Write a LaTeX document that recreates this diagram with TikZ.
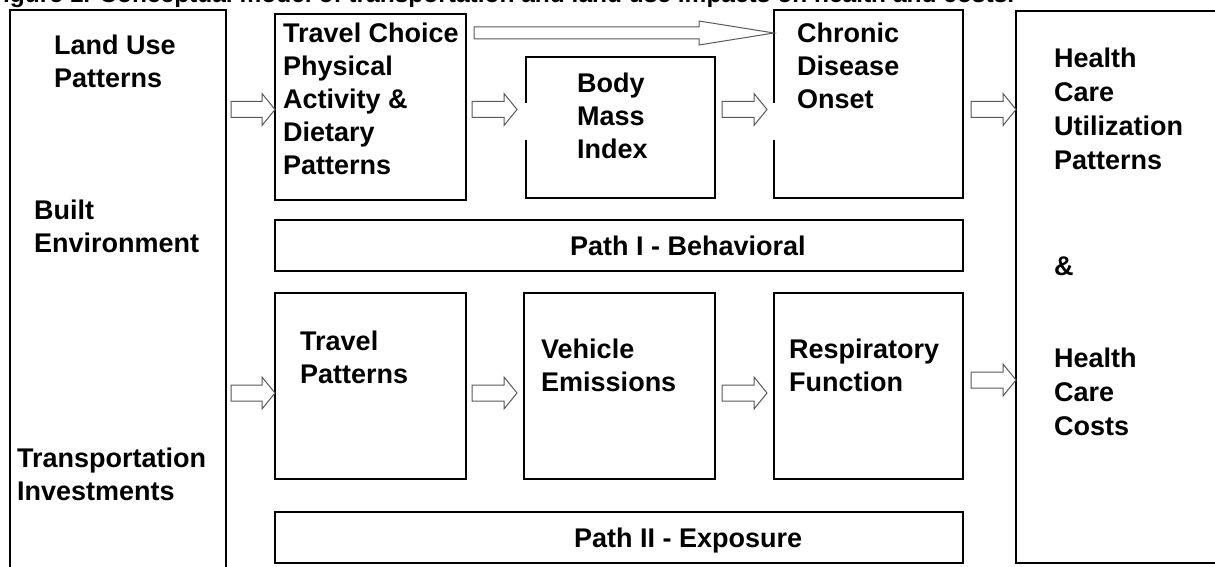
\documentclass[tikz,border=0pt]{standalone}
\usepackage{fontspec}
\setmainfont{Liberation Sans}
\usetikzlibrary{calc}

\tikzset{
  box/.style={draw, line width=1.5pt, inner sep=0pt, outer sep=0pt},
  wh/.style 2 args={minimum width=#1pt, minimum height=#2pt},
  txt/.style={anchor=north west, inner sep=0pt, align=left,
    font=\fontsize{27}{33}\selectfont\bfseries, execute at begin node=\strut},
  wide/.style={font=\fontsize{27}{34}\selectfont\bfseries},
  block arrow/.style n args={3}{to path={let \p1=(\tikztostart), \p2=(\tikztotarget) in
    (\x1,\y1+#1) -- (\x2-#3,\y1+#1) -- (\x2-#3,\y1+#2) -- (\x2,\y1)
    -- (\x2-#3,\y1-#2) -- (\x2-#3,\y1-#1) -- (\x1,\y1-#1) -- cycle}},
  fat/.style={draw=black!65, fill=white, line width=1pt, block arrow={8pt}{16pt}{13pt}},
  longfat/.style={draw=black!65, fill=white, line width=1pt, block arrow={6pt}{12pt}{75pt}},
  gap/.style={draw=white, line width=2.5pt},
}

\begin{document}
\begin{tikzpicture}[x=1pt, y=-1pt]
  \clip (0,0) rectangle (1215,567);

  \node[anchor=base west, inner sep=0pt, font=\fontsize{24.5}{24.5}\selectfont\bfseries]
    (title) at (-12,3) {Figure 1. Conceptual model of transportation and land use impacts on health and costs.};

  % boxes
  \node[box, wh={216}{580}] (lu) at (118,300) {};
  \node[box, wh={191}{186}] (tc) at (370.5,107) {};
  \node[box, wh={189}{141}] (bmi) at (620.5,127.5) {};
  \node[box, wh={189}{188}] (cdo) at (868.5,104) {};
  \node[box, wh={209}{552}] (hc) at (1120.5,287) {};
  \node[box, wh={688}{51}] (p1) at (619,245.5) {};
  \node[box, wh={191}{186}] (tp) at (370.5,386) {};
  \node[box, wh={191}{186}] (ve) at (619.5,386) {};
  \node[box, wh={189}{186}] (rf) at (868.5,386) {};
  \node[box, wh={688}{51}] (p2) at (619,537.5) {};

  % texts
  \node[txt] (tlu) at (54,34.9) {Land Use\\Patterns};
  \node[txt] (tbe) at (34,199.9) {Built\\Environment};
  \node[txt] (tti) at (17,447.9) {Transportation\\Investments};
  \node[txt] (ttc) at (283,22.9) {Travel Choice\\Physical\\Activity \&\\Dietary\\Patterns};
  \node[txt] (tbmi) at (577,72.9) {Body\\Mass\\Index};
  \node[txt] (tcdo) at (797,22.9) {Chronic\\Disease\\Onset};
  \node[txt, wide] (thc) at (1054,48.2) {Health\\Care\\Utilization\\Patterns};
  \node[txt, wide] (tand) at (1054,251.2) {\&};
  \node[txt, wide] (tcost) at (1054,348.2) {Health\\Care\\Costs};
  \node[txt] (tp1) at (570,231.9) {Path I - Behavioral};
  \node[txt] (ttp) at (300,330.9) {Travel\\Patterns};
  \node[txt] (tve) at (541,338.9) {Vehicle\\Emissions};
  \node[txt] (trf) at (789,338.9) {Respiratory\\Function};
  \node[txt] (tp2) at (574,523.9) {Path II - Exposure};

  % arrow levels
  \coordinate (longrow) at (0,33);
  \coordinate (toprow) at (0,109.5);
  \coordinate (hcrow) at (0,380);
  \coordinate (lowrow) at (0,393);

  \draw[gap] ([yshift=-46pt]bmi.north west) -- ([yshift=-83pt]bmi.north west);
  \draw[gap] ([yshift=-93pt]cdo.north west) -- ([yshift=-130pt]cdo.north west);

  \draw[longfat] ([xshift=8pt]tc.east |- longrow) to (cdo.west);
  \draw[fat] ([xshift=5pt]lu.east |- toprow) to (tc.west);
  \draw[fat] ([xshift=6pt]tc.east |- toprow) to ([xshift=-9pt]bmi.west);
  \draw[fat] ([xshift=7pt]bmi.east |- toprow) to ([xshift=-7pt]cdo.west);
  \draw[fat] ([xshift=8pt]cdo.east |- toprow) to (hc.west);

  \draw[fat] ([xshift=5pt]lu.east |- lowrow) to (tp.west);
  \draw[fat] ([xshift=6pt]tp.east |- lowrow) to ([xshift=-7pt]ve.west);
  \draw[fat] ([xshift=7pt]ve.east |- lowrow) to ([xshift=-7pt]rf.west);
  \draw[fat] ([xshift=8pt]rf.east |- hcrow) to (hc.west);
\end{tikzpicture}
\end{document}
